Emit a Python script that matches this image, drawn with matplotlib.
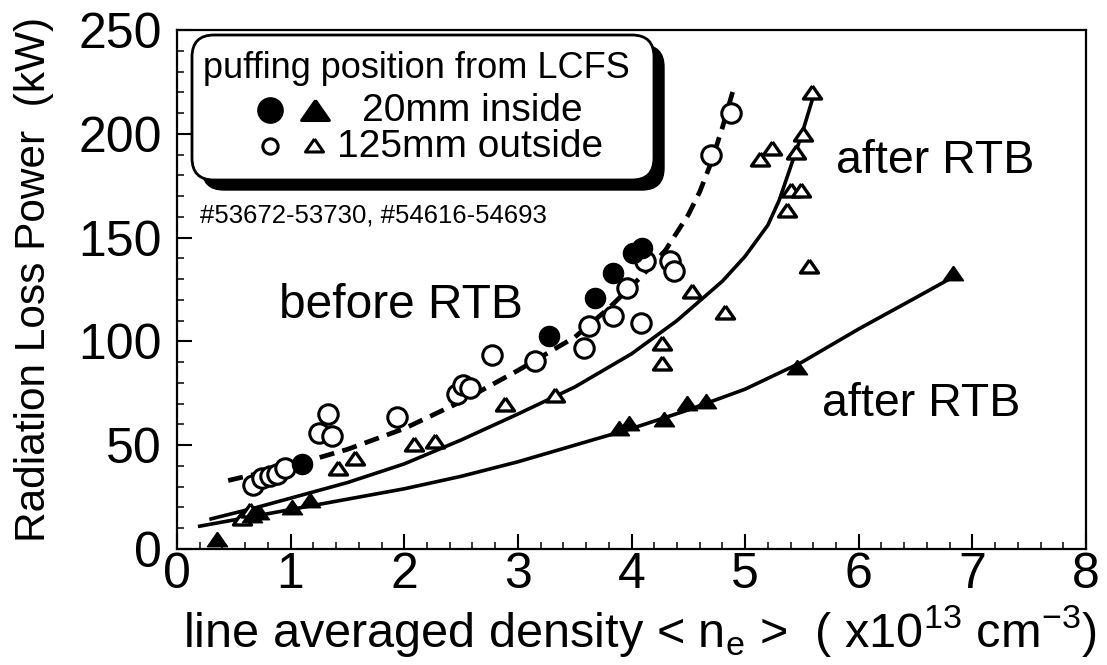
import matplotlib
matplotlib.use("Agg")
import matplotlib.pyplot as plt
from matplotlib.patches import FancyBboxPatch
from matplotlib.lines import Line2D
from matplotlib.ticker import MultipleLocator
from matplotlib.transforms import IdentityTransform

plt.rcParams['font.family'] = ['Liberation Sans', 'DejaVu Sans']

# ---------------- data ----------------
filled_circle_x = [1.10, 3.27, 3.68, 3.84, 4.01, 4.09]
filled_circle_y = [41, 102.5, 121, 133, 142.5, 145]

open_circle_x = [0.67, 0.75, 0.82, 0.88, 0.95, 1.25, 1.33, 1.36, 1.94, 2.46, 2.52,
                 2.58, 2.77, 3.15, 3.58, 3.63, 3.84, 3.96, 4.08, 4.12, 4.34, 4.37,
                 4.70, 4.88]
open_circle_y = [31, 34, 35, 36, 39, 56, 65, 54.5, 63.5, 74.5, 79, 77.5, 93.5, 90.5,
                 97, 107.5, 112, 125.5, 109, 138.5, 138.5, 134, 190, 210]

open_tri_x = [0.57, 0.64, 1.42, 1.57, 2.09, 2.27, 2.89, 3.33, 4.27, 4.27, 4.53, 4.82,
              5.13, 5.24, 5.37, 5.40, 5.49, 5.45, 5.51, 5.56, 5.59]
open_tri_y = [15, 19, 39, 44, 50.5, 52, 70, 74, 99, 89.5, 124.5, 114, 188, 193,
              163.5, 173, 173, 191, 200, 136.5, 220]

filled_tri_x = [0.35, 0.66, 0.72, 1.01, 1.17, 3.89, 3.98, 4.29, 4.49, 4.66, 5.46, 6.83]
filled_tri_y = [5, 16.5, 18, 20, 23.5, 58.5, 60.5, 62.5, 70.5, 71.5, 87.5, 133]

# fitted curves as drawn in the reference
before_x = [0.45, 1.0, 1.5, 2.0, 2.5, 3.0, 3.5, 3.8, 4.1, 4.3, 4.5, 4.6, 4.7, 4.8, 4.9]
before_y = [33, 40, 48, 58, 71, 86, 102, 116, 132, 144, 161, 172, 186, 203, 222]

after_out_x = [0.3, 0.7, 1.0, 1.5, 2.0, 2.5, 3.0, 3.5, 4.0, 4.4, 4.8, 5.0, 5.2, 5.3,
               5.4, 5.5, 5.6]
after_out_y = [14.5, 20, 24.5, 32, 41, 52.5, 65, 78, 94, 110, 129, 141, 156, 168,
               184, 200, 218]

after_in_x = [0.2, 0.6, 1.0, 1.5, 2.0, 2.5, 3.0, 3.5, 4.0, 4.5, 5.0, 5.5, 6.0, 6.5, 6.83]
after_in_y = [11, 15, 19, 24, 29, 35, 42, 50, 58, 67, 77, 90, 106, 121, 131]

x_ticks = [0, 1, 2, 3, 4, 5, 6, 7, 8]
y_ticks = [0, 50, 100, 150, 200, 250]

# ---------------- figure ----------------
W, H = 1107, 665
fig = plt.figure(figsize=(W / 100, H / 100), dpi=100)
L, R, B, T = 177, 1086, 549, 30
ax = fig.add_axes([L / W, 1 - B / H, (R - L) / W, (B - T) / H])
ax.set_xlim(0, 8)
ax.set_ylim(0, 250)

for s in ax.spines.values():
    s.set_linewidth(1.6)

ax.set_xticks(x_ticks)
ax.set_yticks(y_ticks)
ax.xaxis.set_minor_locator(MultipleLocator(0.2))
ax.yaxis.set_minor_locator(MultipleLocator(10))
ax.tick_params(which='major', direction='in', length=11, width=1.5, top=False, right=False)
ax.tick_params(which='minor', direction='in', length=5, width=1.1, top=False, right=False)
ax.tick_params(axis='y', labelsize=36, pad=11)
ax.tick_params(axis='x', labelsize=36, pad=2)

ax.set_ylabel('Radiation Loss Power  (kW)', fontsize=30.5)
ax.yaxis.set_label_coords(-0.135, 0.519)
ax.set_xlabel(r'line averaged density < n$_\mathregular{e}$ >  ( x10$^\mathregular{13}$ cm$^\mathregular{-3}$)',
              fontsize=35)
ax.xaxis.set_label_coords(0.509, -0.191)
ax.xaxis.label.set_va('baseline')

# curves
ax.plot(before_x, before_y, color='black', lw=3.4, ls=(0, (3.2, 1.8)),
        solid_capstyle='butt', zorder=2)
ax.plot(after_out_x, after_out_y, color='black', lw=2.6, zorder=2)
ax.plot(after_in_x, after_in_y, color='black', lw=2.6, zorder=2)

# flattened triangle marker
tri = [(0, 0.72), (-1, -0.72), (1, -0.72), (0, 0.72)]

# markers
ax.plot(open_circle_x, open_circle_y, ls='none', marker='o', ms=14, mfc='white',
        mec='black', mew=2.2, zorder=3)
ax.plot(filled_circle_x, filled_circle_y, ls='none', marker='o', ms=14.5, mfc='black',
        mec='black', zorder=4)
ax.plot(open_tri_x, open_tri_y, ls='none', marker=tri, ms=13, mfc='white',
        mec='black', mew=2.4, zorder=3)
ax.plot(filled_tri_x, filled_tri_y, ls='none', marker=tri, ms=14.5, mfc='black',
        mec='black', zorder=4)

# annotations
ax.text(1.97, 111.5, 'before RTB', fontsize=34.5, ha='center', va='baseline')
ax.text(6.67, 181, 'after RTB', fontsize=33.5, ha='center', va='baseline')
ax.text(6.55, 64, 'after RTB', fontsize=33.5, ha='center', va='baseline')

# legend box (rounded, with shadow) in output pixel coordinates
bx0, bx1, by0, by1 = 192, 654, 35, 180
sh = 10
shadow = FancyBboxPatch((bx0 + sh, H - by1 - sh), bx1 - bx0, by1 - by0,
                        boxstyle='round,pad=0,rounding_size=22',
                        transform=IdentityTransform(), fc='black', ec='black', lw=1,
                        zorder=5)
box = FancyBboxPatch((bx0, H - by1), bx1 - bx0, by1 - by0,
                     boxstyle='round,pad=0,rounding_size=22',
                     transform=IdentityTransform(), fc='white', ec='black', lw=2.0,
                     zorder=6)
fig.add_artist(shadow)
fig.add_artist(box)


def fx(px):
    return px / W


def fy(py):
    return 1 - py / H


fig.text(fx(203), fy(78), 'puffing position from LCFS', fontsize=26, ha='left',
         va='baseline', zorder=7)
fig.text(fx(362), fy(121), '20mm inside', fontsize=28, ha='left', va='baseline', zorder=7)
fig.text(fx(337), fy(157), '125mm outside', fontsize=28, ha='left', va='baseline', zorder=7)
fig.text(fx(200), fy(222), '#53672-53730, #54616-54693', fontsize=18.5, ha='left',
         va='baseline')

leg_marks = [
    (270, 110, 'o', 'black', 17),
    (315, 110, tri, 'black', 20),
    (270, 146, 'o', 'white', 11),
    (314, 145, tri, 'white', 13),
]
for px, py, m, fc, ms in leg_marks:
    fig.add_artist(Line2D([fx(px)], [fy(py)], marker=m, ms=ms, mfc=fc, mec='black',
                          mew=2.2, ls='none', transform=fig.transFigure, zorder=7))

fig.savefig('out.png', dpi=100)
